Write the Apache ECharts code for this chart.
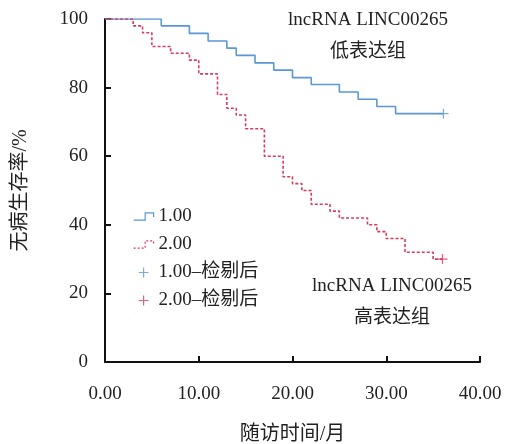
<!DOCTYPE html>
<html style="height: 100%">
<head>
	<meta charset="utf-8">
</head>
<body style="height: 100%; margin: 0; background: #fff">
<div id="container" style="width: 507px; height: 444px"></div>
<script type="text/javascript" src="https://cdn.jsdelivr.net/npm/echarts@6/dist/echarts.min.js"></script>
<script type="text/javascript">
    // KM steps: [month, survival %]
    var lowExpr = [[0, 100], [6, 98], [9, 95.8], [11, 93.6], [13, 91.5], [14, 89.4], [16, 87.2], [18, 85.1],
        [20, 82.9], [22, 80.9], [25, 78.7], [27, 76.6], [29, 74.5], [31, 72.4], [36.1, 72.4]];
    var highExpr = [[0, 100], [3, 98], [4, 96], [5, 92], [7, 90], [9, 88], [10, 84], [12, 78], [13, 74],
        [14, 72], [15, 68], [17, 60], [19, 54], [20, 52], [21, 50], [22, 46], [24, 44], [25, 42], [28, 40],
        [29, 38], [30, 36], [32, 32], [35, 30], [36, 30]];
    var censorLow = [[36.1, 72.4]];
    var censorHigh = [[36, 30]];
    var seriesNames = ['1.00', '2.00', '1.00–检剔后', '2.00–检剔后'];

    var blue = '#5b97d6';
    var red = '#d83a5c';
    var serif = '"Liberation Serif", "Noto Sans CJK SC", serif';
    var plus = 'path://M4.4,0h1.2v4.4h4.4v1.2h-4.4v4.4h-1.2v-4.4h-4.4v-1.2h4.4z';

    var dom = document.getElementById("container");
    var myChart = echarts.init(dom, null, {renderer: 'canvas'});

    var option = {
        backgroundColor: '#fff',
        animation: false,
        grid: {left: 105, right: 27, top: 19, bottom: 82, outerBoundsMode: 'none', containLabel: false},
        xAxis: {
            type: 'value', min: 0, max: 40, interval: 10,
            name: '随访时间/月', nameLocation: 'middle', nameGap: 63,
            nameTextStyle: {fontFamily: serif, fontSize: 20, color: '#222'},
            axisLine: {lineStyle: {color: '#111', width: 2}},
            axisTick: {inside: true, length: 6, lineStyle: {color: '#111', width: 2}},
            axisLabel: {margin: 23, fontFamily: serif, fontSize: 19, color: '#222',
                formatter: function (v) { return v.toFixed(2); }},
            splitLine: {show: false}
        },
        yAxis: {
            type: 'value', min: 0, max: 100, interval: 20,
            name: '无病生存率/%', nameLocation: 'middle', nameGap: 74,
            nameTextStyle: {fontFamily: serif, fontSize: 20, color: '#222'},
            axisLine: {show: true, lineStyle: {color: '#111', width: 2}},
            axisTick: {show: true, inside: true, length: 6, lineStyle: {color: '#111', width: 2}},
            axisLabel: {margin: 17, fontFamily: serif, fontSize: 19, color: '#222'},
            splitLine: {show: false}
        },
        legend: {
            orient: 'vertical', left: 128, top: 202, itemGap: 9,
            itemWidth: 20, itemHeight: 10,
            textStyle: {fontFamily: serif, fontSize: 19, color: '#222'},
            data: [
                {name: seriesNames[0], icon: 'path://M0,9L11,9L11,2L19,2L19,6',
                    itemStyle: {color: 'transparent', borderColor: blue, borderWidth: 1.2}},
                {name: seriesNames[1], icon: 'path://M0,9L11,9L11,2L19,2L19,6',
                    itemStyle: {color: 'transparent', borderColor: red, borderWidth: 1.2, borderType: [2, 2]}},
                {name: seriesNames[2], icon: plus, itemStyle: {color: blue}},
                {name: seriesNames[3], icon: plus, itemStyle: {color: red}}
            ]
        },
        graphic: [
            {type: 'text', style: {text: 'lncRNA LINC00265\n低表达组', x: 368, y: 4,
                align: 'center', lineHeight: 32, font: '19px ' + serif, fill: '#222'}},
            {type: 'text', style: {text: 'lncRNA LINC00265\n高表达组', x: 392, y: 270,
                align: 'center', lineHeight: 32, font: '19px ' + serif, fill: '#222'}}
        ],
        series: [
            {name: seriesNames[0], type: 'line', step: 'end', data: lowExpr, showSymbol: false,
                lineStyle: {color: blue, width: 1.6}, itemStyle: {color: blue}, z: 3},
            {name: seriesNames[1], type: 'line', step: 'end', data: highExpr, showSymbol: false,
                lineStyle: {color: red, width: 1.6, type: [3, 2]}, itemStyle: {color: red}, z: 3},
            {name: seriesNames[2], type: 'scatter', data: censorLow, symbol: plus, symbolSize: 10,
                itemStyle: {color: blue}, z: 4},
            {name: seriesNames[3], type: 'scatter', data: censorHigh, symbol: plus, symbolSize: 10,
                itemStyle: {color: red}, z: 4}
        ]
    };
    myChart.setOption(option);
</script>
</body>
</html>
